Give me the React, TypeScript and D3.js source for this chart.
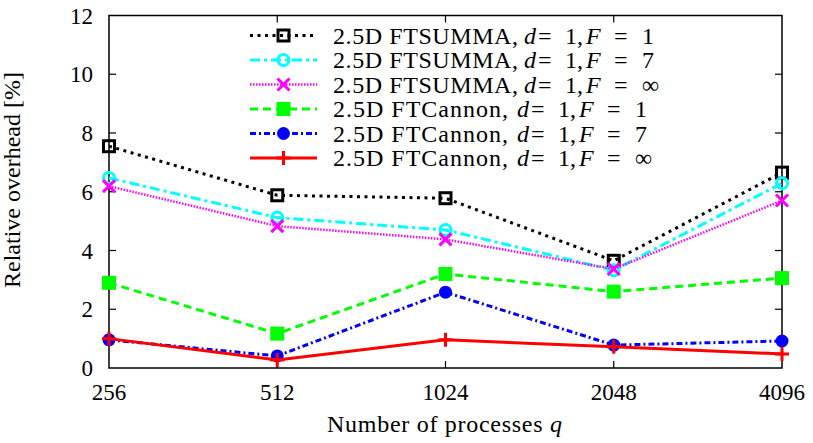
import React from 'react'
import * as d3 from 'd3'

const procs = ['256', '512', '1024', '2048', '4096']
const yTicks = [0, 2, 4, 6, 8, 10, 12]

const summaF1 = [7.55, 5.88, 5.78, 3.65, 6.65]
const summaF7 = [6.47, 5.12, 4.7, 3.33, 6.29]
const summaFinf = [6.19, 4.83, 4.38, 3.37, 5.7]
const cannonF1 = [2.9, 1.17, 3.2, 2.6, 3.06]
const cannonF7 = [0.96, 0.41, 2.58, 0.78, 0.92]
const cannonFinf = [1.0, 0.27, 0.96, 0.72, 0.48]

const seriesNames = ['2.5D FTSUMMA,', '2.5D FTSUMMA,', '2.5D FTSUMMA,', '2.5D FTCannon,', '2.5D FTCannon,', '2.5D FTCannon,']
const seriesF = ['1', '7', '∞', '1', '7', '∞']

const W = 813
const H = 443
const m = { left: 109, right: 31, top: 15.5, bottom: 75 }
const FONT = 'Liberation Serif, serif'
const FS = 23

type Style = { color: string; dash: string; width: number; marker: string }
const styles: Style[] = [
  { color: '#000000', dash: '3,4.5', width: 3, marker: 'squareOpen' },
  { color: '#00ffff', dash: '10,4,3,4', width: 3, marker: 'circleOpen' },
  { color: '#ff00ff', dash: '1.5,1.5', width: 2.5, marker: 'cross' },
  { color: '#00ff00', dash: '8,5', width: 3, marker: 'squareFill' },
  { color: '#0000ff', dash: '6,3,2,3', width: 3, marker: 'circleFill' },
  { color: '#ff0000', dash: '', width: 3, marker: 'plus' },
]

const Marker = ({ kind, x, y, color }: { kind: string; x: number; y: number; color: string }) => {
  const s = 6
  if (kind === 'squareOpen')
    return <rect x={x - 5.5} y={y - 5.5} width={11} height={11} fill="none" stroke={color} strokeWidth={3} />
  if (kind === 'squareFill')
    return <rect x={x - 7} y={y - 7} width={14} height={14} fill={color} />
  if (kind === 'circleOpen')
    return <circle cx={x} cy={y} r={5.5} fill="none" stroke={color} strokeWidth={3} />
  if (kind === 'circleFill')
    return <circle cx={x} cy={y} r={6.5} fill={color} />
  if (kind === 'cross')
    return (
      <path d={`M${x - s},${y - s}L${x + s},${y + s}M${x - s},${y + s}L${x + s},${y - s}`} stroke={color} strokeWidth={3} />
    )
  return <path d={`M${x - 7},${y}L${x + 7},${y}M${x},${y - 7}L${x},${y + 7}`} stroke={color} strokeWidth={3} />
}

export default function App() {
  const data = [summaF1, summaF7, summaFinf, cannonF1, cannonF7, cannonFinf]
  const x = d3.scalePoint<string>().domain(procs).range([m.left, W - m.right])
  const y = d3.scaleLinear().domain([0, 12]).range([H - m.bottom, m.top])
  const line = d3.line<number>().x((_, i) => x(procs[i]) as number).y(d => y(d))
  const x0 = m.left
  const x1 = W - m.right
  const y0 = y(0)
  const y1 = y(12)
  const tl = 7

  return (
    <svg width={W} height={H} style={{ position: 'absolute', left: 0, top: 0, background: '#fff' }} fontFamily={FONT}>
      {/* ticks */}
      {yTicks.map(t => (
        <g key={'y' + t}>
          {t > 0 && t < 12 && (
            <>
              <line x1={x0} x2={x0 + tl} y1={y(t)} y2={y(t)} stroke="#000" strokeWidth={1.2} />
              <line x1={x1} x2={x1 - tl} y1={y(t)} y2={y(t)} stroke="#000" strokeWidth={1.2} />
            </>
          )}
          <text x={x0 - 16} y={y(t)} dy="0.35em" textAnchor="end" fontSize={FS}>{t}</text>
        </g>
      ))}
      {procs.map(p => (
        <g key={'x' + p}>
          {p !== procs[0] && p !== procs[procs.length - 1] && (
            <>
              <line x1={x(p)} x2={x(p)} y1={y0} y2={y0 - tl} stroke="#000" strokeWidth={1.2} />
              <line x1={x(p)} x2={x(p)} y1={y1} y2={y1 + tl} stroke="#000" strokeWidth={1.2} />
            </>
          )}
          <text x={x(p)} y={400} textAnchor="middle" fontSize={FS}>{p}</text>
        </g>
      ))}
      <rect x={x0} y={y1} width={x1 - x0} height={y0 - y1} fill="none" stroke="#000" strokeWidth={1.5} />

      {/* series */}
      {data.map((d, k) => (
        <g key={'s' + k}>
          <path d={line(d) || ''} fill="none" stroke={styles[k].color} strokeWidth={styles[k].width} strokeDasharray={styles[k].dash} />
          {d.map((v, i) => (
            <Marker key={i} kind={styles[k].marker} x={x(procs[i]) as number} y={y(v)} color={styles[k].color} />
          ))}
        </g>
      ))}

      {/* legend */}
      {seriesNames.map((name, k) => {
        const ly = 35.5 + k * 24.5
        const tx = 333
        const nameW = k < 3 ? 185 : 175
        const dx = tx + nameW + (k < 3 ? 6 : 9)
        return (
          <g key={'l' + k} fontSize={24}>
            <line x1={250} x2={317} y1={ly} y2={ly} stroke={styles[k].color} strokeWidth={styles[k].width} strokeDasharray={styles[k].dash} />
            <Marker kind={styles[k].marker} x={283.5} y={ly} color={styles[k].color} />
            <text x={tx} y={ly} dy="0.35em" textLength={nameW}>{name}</text>
            <text x={dx} y={ly} dy="0.35em" fontStyle="italic">d</text>
            <text x={dx + 14} y={ly} dy="0.35em">=</text>
            <text x={dx + 41} y={ly} dy="0.35em">1,</text>
            <text x={dx + 62} y={ly} dy="0.35em" fontStyle="italic">F</text>
            <text x={dx + 90} y={ly} dy="0.35em">=</text>
            <text x={dx + 118} y={ly} dy="0.35em">{seriesF[k]}</text>
          </g>
        )
      })}

      {/* axis titles */}
      <text transform={`translate(20,180) rotate(-90)`} textAnchor="middle" fontSize={24} textLength={216}>
        Relative overhead [%]
      </text>
      <text x={327} y={432} fontSize={24} textLength={235}>
        Number of processes <tspan fontStyle="italic">q</tspan>
      </text>
    </svg>
  )
}
